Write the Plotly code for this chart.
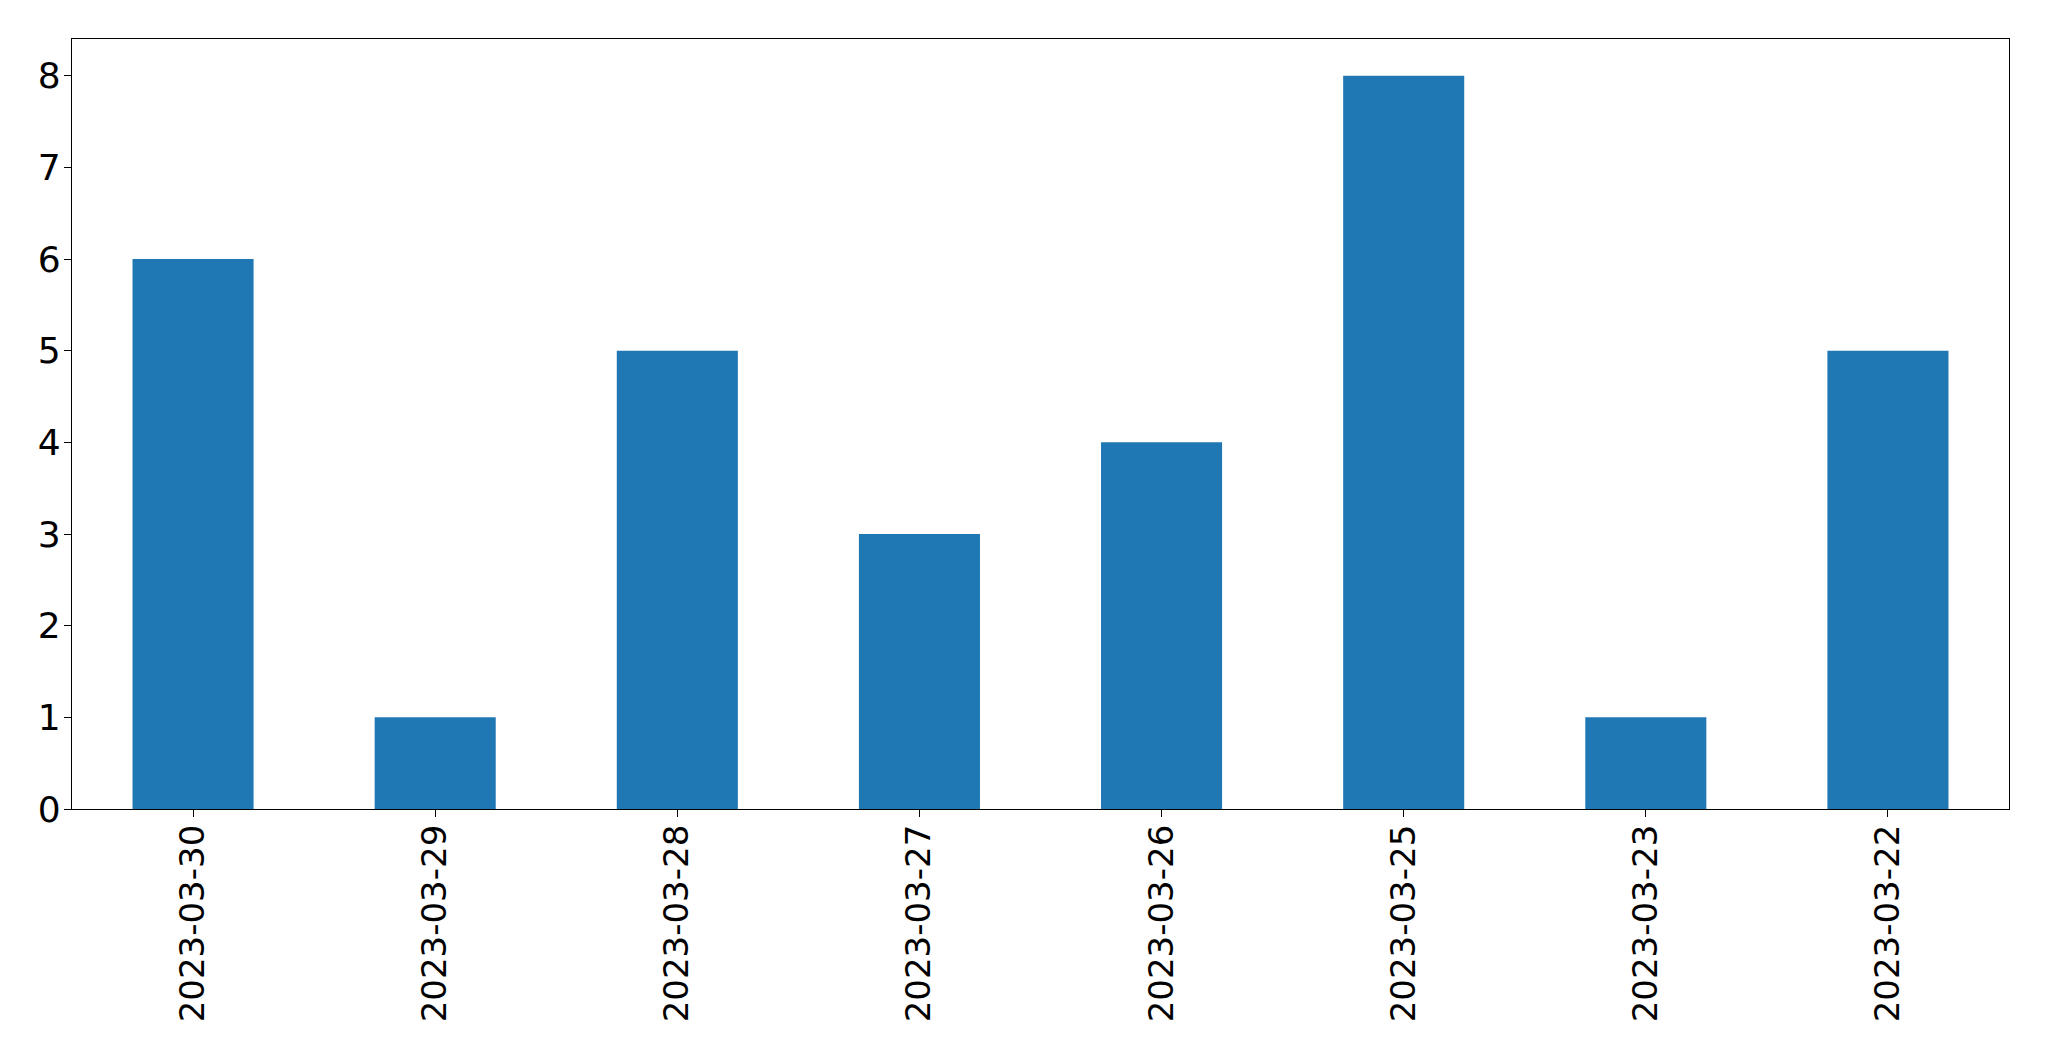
import plotly.graph_objects as go

dates = ["2023-03-30", "2023-03-29", "2023-03-28", "2023-03-27",
         "2023-03-26", "2023-03-25", "2023-03-23", "2023-03-22"]
counts = [6, 1, 5, 3, 4, 8, 1, 5]
y_ticks = [0, 1, 2, 3, 4, 5, 6, 7, 8]

fig = go.Figure(go.Bar(x=dates, y=counts, marker_color="#1f77b4",
                       marker_line_width=0, width=0.5))

xfont = dict(family="DejaVu Sans", size=34, color="black")
yfont = dict(family="DejaVu Sans", size=36, color="black")
fig.update_layout(
    width=2041, height=1053,
    margin=dict(l=64, r=40, t=31, b=252),
    paper_bgcolor="white", plot_bgcolor="white",
    showlegend=False, bargap=0.5,
    font=yfont,
)
fig.update_xaxes(type="category", range=[-0.5, 7.5], tickangle=-90,
                 showline=True, linecolor="black", linewidth=1.3, mirror=True,
                 ticks="outside", ticklen=7, tickwidth=1.3, tickcolor="black",
                 ticklabelstandoff=-6,
                 showgrid=False, zeroline=False, tickfont=xfont)
fig.update_yaxes(range=[0, 8.4], tickvals=y_ticks,
                 showline=True, linecolor="black", linewidth=1.3, mirror=True,
                 ticks="outside", ticklen=7, tickwidth=1.3, tickcolor="black",
                 ticklabelstandoff=-4,
                 showgrid=False, zeroline=False, tickfont=yfont)

fig.write_html("out.html")
